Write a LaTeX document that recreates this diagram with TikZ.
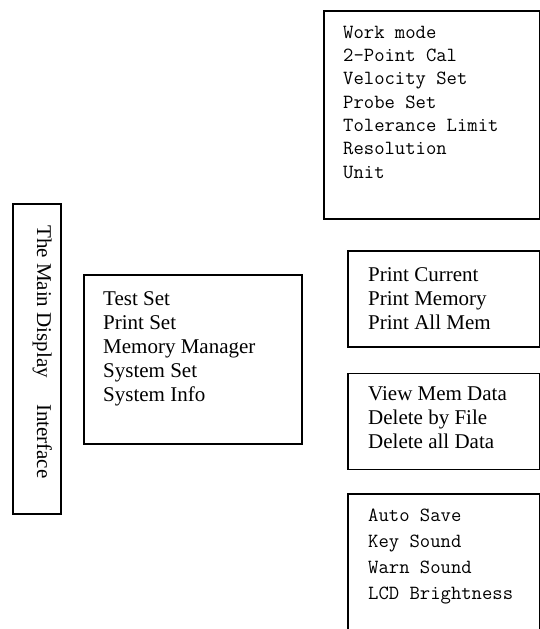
\documentclass[tikz,border=0pt]{standalone}
\usepackage{fontspec}
\setmainfont{Liberation Serif}
\usetikzlibrary{positioning}
\tikzset{
  menubox/.style={draw,line width=1.7pt,inner sep=0pt,anchor=north west},
  seriflist/.style={anchor=base west,align=left,inner sep=0pt,
    font=\fontsize{21}{24}\selectfont},
  monolist/.style={anchor=base west,align=left,inner sep=0pt,
    font=\ttfamily\fontsize{20.1}{23.3}\selectfont}
}
\begin{document}
\begin{tikzpicture}[x=1pt,y=-1pt]
  \clip (0,0) rectangle (540,629);
  % main display
  \node[menubox,minimum width=48pt,minimum height=310pt] (mainbox) at (12,203) {};
  \node[seriflist,rotate=-90] (maintitle) at (37,225) {The Main Display\hspace{26pt}Interface};
  % first level (base = last line)
  \node[menubox,minimum width=218pt,minimum height=169pt] (mainmenu) at (83,274) {};
  \node[seriflist] (mainlist) at (103,401) {Test Set\\Print Set\\Memory Manager\\System Set\\System Info};
  % second level
  \node[menubox,minimum width=216pt,minimum height=208pt] (testbox) at (323,10) {};
  \node[monolist] (testlist) at (343,178) {Work mode\\2-Point Cal\\Velocity Set\\Probe Set\\Tolerance Limit\\Resolution\\Unit};
  \node[menubox,minimum width=192pt,minimum height=96pt] (printbox) at (347,250) {};
  \node[seriflist] (printlist) at (368,329) {Print Current\\Print Memory\\Print All Mem};
  \node[menubox,minimum width=192pt,minimum height=96pt,
    below=25pt of printbox.south west,anchor=north west] (memorybox) {};
  \node[seriflist] (memorylist) at (368,448) {View Mem Data\\Delete by File\\Delete all Data};
  \node[menubox,minimum width=192pt,minimum height=160pt,
    below=23pt of memorybox.south west,anchor=north west] (systembox) {};
  \node[monolist,font=\ttfamily\fontsize{20.1}{26}\selectfont] (systemlist) at (368,599) {Auto Save\\Key Sound\\Warn Sound\\LCD Brightness};
\end{tikzpicture}
\end{document}
